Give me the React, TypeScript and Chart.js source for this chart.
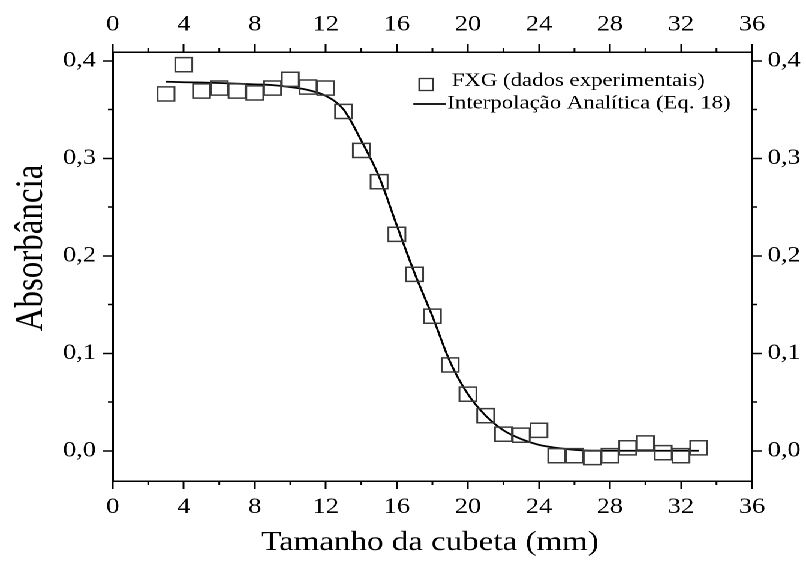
import React, { useEffect, useRef } from 'react';
import { Chart, registerables } from 'chart.js';

Chart.register(...registerables);

// ---- data ----
const expX = [3, 4, 5, 6, 7, 8, 9, 10, 11, 12, 13, 14, 15, 16, 17, 18, 19, 20, 21, 22, 23, 24, 25, 26, 27, 28, 29, 30, 31, 32, 33];
const expY = [0.366, 0.396, 0.369, 0.372, 0.369, 0.367, 0.372, 0.381, 0.373, 0.372, 0.348, 0.308, 0.276, 0.222, 0.181, 0.138, 0.088, 0.058, 0.036, 0.017, 0.016, 0.021, -0.005, -0.005, -0.007, -0.005, 0.003, 0.008, -0.002, -0.005, 0.003];

const fitX = [3, 4, 5, 6, 7, 8, 9, 10, 11, 12, 13, 14, 15, 16, 17, 18, 19, 20, 21, 22, 23, 24, 25, 26, 27, 28, 29, 30, 31, 32, 33];
const fitY = [0.3785, 0.378, 0.3777, 0.3772, 0.3766, 0.3758, 0.375, 0.373, 0.37, 0.364, 0.35, 0.318, 0.281, 0.231, 0.182, 0.138, 0.091, 0.058, 0.036, 0.021, 0.012, 0.006, 0.003, 0.001, 0.0, 0.0, 0.0, 0.0, 0.0, 0.0, 0.0];

const xMin = 0;
const xMax = 36;
const xStep = 4;
const yMin = -0.031;
const yMax = 0.409;
const yStep = 0.1;
const xMinorTicks = [2, 6, 10, 14, 18, 22, 26, 30, 34];
const yMinorTicks = [0.05, 0.15, 0.25, 0.35];

const legendLabels = ['FXG (dados experimentais)', 'Interpolação Analítica (Eq. 18)'];
const xTitle = 'Tamanho da cubeta (mm)';
const yTitle = 'Absorbância';

// ---- layout ----
const W = 672;
const H = 562;
const SX = 806 / W;
const FONT = '"Liberation Serif", "Times New Roman", Times, serif';

const fmtY = (v: number) => {
  const n = Math.abs(v) < 1e-9 ? 0 : v;
  return n.toFixed(1).replace('.', ',');
};

const decorPlugin = {
  id: 'decor',
  afterDraw(chart: any) {
    const ctx = chart.ctx;
    const { x, x2, y, y2 } = chart.scales;
    const ca = chart.chartArea;
    ctx.save();
    // minor ticks
    ctx.strokeStyle = '#000';
    ctx.lineWidth = 1.5;
    const ml = 4;
    ctx.beginPath();
    xMinorTicks.forEach((v) => {
      const px = x.getPixelForValue(v);
      ctx.moveTo(px, ca.bottom);
      ctx.lineTo(px, ca.bottom + ml);
      const px2 = x2.getPixelForValue(v);
      ctx.moveTo(px2, ca.top);
      ctx.lineTo(px2, ca.top - ml);
    });
    yMinorTicks.forEach((v) => {
      const py = y.getPixelForValue(v);
      ctx.moveTo(ca.left, py);
      ctx.lineTo(ca.left - ml, py);
      const py2 = y2.getPixelForValue(v);
      ctx.moveTo(ca.right, py2);
      ctx.lineTo(ca.right + ml, py2);
    });
    ctx.stroke();

    // legend
    ctx.fillStyle = '#000';
    ctx.font = `19px ${FONT}`;
    ctx.textAlign = 'left';
    ctx.textBaseline = 'alphabetic';
    ctx.strokeStyle = '#333';
    ctx.lineWidth = 1.3;
    ctx.strokeRect(355.2 - 5.75, 84.5 - 6, 11.5, 12);
    ctx.fillText(legendLabels[0], 376.6, 86);
    ctx.strokeStyle = '#000';
    ctx.lineWidth = 1.7;
    ctx.beginPath();
    ctx.moveTo(344.6, 104);
    ctx.lineTo(371.8, 104);
    ctx.stroke();
    ctx.fillText(legendLabels[1], 372.9, 108.3);

    // axis titles
    ctx.font = `27.5px ${FONT}`;
    ctx.textAlign = 'center';
    ctx.fillText(xTitle, (ca.left + ca.right) / 2 - 2, 550);
    ctx.save();
    ctx.translate(35, 248);
    ctx.rotate(-Math.PI / 2);
    ctx.font = `33px ${FONT}`;
    ctx.fillText(yTitle, 0, 0);
    ctx.restore();
    ctx.restore();
  },
};

const tickFont = { family: FONT, size: 22, lineHeight: 1.2 };
const gridOpts = {
  drawOnChartArea: false,
  drawTicks: true,
  tickLength: 8,
  tickWidth: 1.5,
  tickColor: '#000',
};
const borderOpts = { display: true, color: '#000', width: 1.5 };

export default function App() {
  const ref = useRef<HTMLCanvasElement | null>(null);

  useEffect(() => {
    if (!ref.current) return;
    const chart = new Chart(ref.current, {
      type: 'scatter',
      data: {
        datasets: [
          {
            label: legendLabels[0],
            data: expX.map((v, i) => ({ x: v, y: expY[i] })),
            showLine: false,
            pointStyle: 'rect',
            pointRadius: 10,
            pointBorderWidth: 1.5,
            borderColor: '#3a3a3a',
            backgroundColor: 'rgba(0,0,0,0)',
            xAxisID: 'x',
            yAxisID: 'y',
          },
          {
            label: legendLabels[1],
            data: fitX.map((v, i) => ({ x: v, y: fitY[i] })),
            showLine: true,
            borderColor: '#000',
            borderWidth: 1.8,
            pointRadius: 0,
            cubicInterpolationMode: 'monotone',
            fill: false,
            xAxisID: 'x',
            yAxisID: 'y',
          },
        ],
      },
      options: {
        animation: false,
        responsive: false,
        devicePixelRatio: 2,
        layout: { padding: 0 },
        plugins: { legend: { display: false }, tooltip: { enabled: false } },
        scales: {
          x: {
            type: 'linear',
            axis: 'x',
            position: 'bottom',
            min: xMin,
            max: xMax,
            ticks: { stepSize: xStep, font: tickFont, color: '#000', padding: 5, callback: (v: any) => String(v) },
            grid: gridOpts,
            border: borderOpts,
            afterFit: (s: any) => { s.height = 81; },
          },
          x2: {
            type: 'linear',
            axis: 'x',
            position: 'top',
            min: xMin,
            max: xMax,
            ticks: { stepSize: xStep, font: tickFont, color: '#000', padding: 6.3, callback: (v: any) => String(v) },
            grid: gridOpts,
            border: borderOpts,
            afterFit: (s: any) => { s.height = 52; },
          },
          y: {
            type: 'linear',
            axis: 'y',
            position: 'left',
            min: yMin,
            max: yMax,
            ticks: { stepSize: yStep, includeBounds: false, font: tickFont, color: '#000', padding: 6, callback: (v: any) => fmtY(v) },
            grid: gridOpts,
            border: borderOpts,
            afterFit: (s: any) => { s.width = 94; },
          },
          y2: {
            type: 'linear',
            axis: 'y',
            position: 'right',
            min: yMin,
            max: yMax,
            ticks: { stepSize: yStep, includeBounds: false, font: tickFont, color: '#000', padding: 5, callback: (v: any) => fmtY(v) },
            grid: gridOpts,
            border: borderOpts,
            afterFit: (s: any) => { s.width = 45; },
          },
        },
      } as any,
      plugins: [decorPlugin],
    });
    return () => chart.destroy();
  }, []);

  return (
    <div
      style={{
        position: 'absolute',
        left: 0,
        top: 0,
        width: W,
        height: H,
        transform: `scaleX(${SX})`,
        transformOrigin: '0 0',
        background: '#fff',
      }}
    >
      <canvas ref={ref} width={W} height={H} style={{ width: W, height: H, display: 'block' }} />
    </div>
  );
}
